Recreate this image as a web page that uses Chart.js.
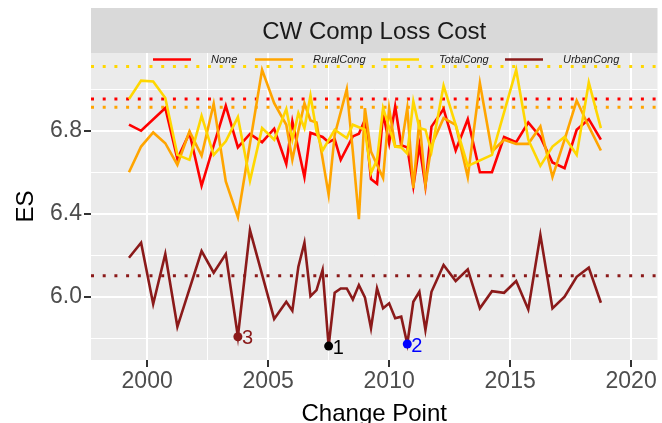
<!DOCTYPE html>
<html>
<head>
<meta charset="utf-8">
<title>CW Comp Loss Cost</title>
<script src="https://cdn.jsdelivr.net/npm/chart.js@4.4.1/dist/chart.umd.min.js"></script>
<style>
    html, body { margin: 0; padding: 0; background: #ffffff; }
    canvas { display: block; }
</style>
</head>
<body>
<canvas id="esChart" width="662" height="423"></canvas>
<script>
//--- Data: [change point, ES]
var seriesNames = ['None', 'RuralCong', 'TotalCong', 'UrbanCong'];
var seriesColors = ['#FF0000', '#FFA500', '#FFD700', '#8B1A1A'];

var noneES = [
    [1999.25, 6.83], [1999.75, 6.80], [2000.75, 6.91], [2001.25, 6.665], [2001.75, 6.79],
    [2002.25, 6.535], [2002.75, 6.73], [2003.25, 6.92], [2003.75, 6.72], [2004.25, 6.785],
    [2004.75, 6.745], [2005.25, 6.81], [2005.75, 6.64], [2006.0, 6.845], [2006.5, 6.577],
    [2006.75, 6.79], [2007.25, 6.77], [2007.5, 6.745], [2007.75, 6.76], [2008.0, 6.66],
    [2008.5, 6.773], [2008.75, 6.786], [2009.0, 6.853], [2009.25, 6.567], [2009.5, 6.545],
    [2009.75, 6.885], [2010.0, 6.74], [2010.25, 6.917], [2010.5, 6.73], [2010.75, 6.72],
    [2011.0, 6.532], [2011.25, 6.73], [2011.5, 6.535], [2011.75, 6.82], [2012.25, 6.905],
    [2012.75, 6.705], [2013.25, 6.856], [2013.75, 6.60], [2014.25, 6.60], [2014.75, 6.77],
    [2015.25, 6.745], [2015.75, 6.84], [2016.25, 6.77], [2016.75, 6.647], [2017.25, 6.62],
    [2017.75, 6.805], [2018.25, 6.856], [2018.75, 6.757]
];
var ruralES = [
    [1999.25, 6.60], [1999.75, 6.724], [2000.25, 6.792], [2000.75, 6.74], [2001.25, 6.636],
    [2001.75, 6.797], [2002.25, 6.68], [2002.75, 6.93], [2003.25, 6.556], [2003.75, 6.384],
    [2004.75, 7.094], [2005.25, 6.933], [2005.75, 6.829], [2006.0, 6.66], [2006.25, 6.80],
    [2006.5, 6.933], [2006.75, 6.85], [2007.0, 6.84], [2007.5, 6.492], [2007.75, 6.78],
    [2008.25, 7.001], [2008.5, 6.70], [2008.75, 6.374], [2009.0, 6.909], [2009.25, 6.70],
    [2009.75, 6.572], [2010.0, 6.909], [2010.25, 6.725], [2010.5, 6.725], [2010.75, 6.909],
    [2011.0, 6.524], [2011.25, 6.853], [2011.5, 6.54], [2011.75, 6.73], [2012.25, 6.861],
    [2012.75, 6.829], [2013.25, 6.577], [2013.75, 7.03], [2014.25, 6.70], [2014.75, 6.757],
    [2015.25, 6.737], [2015.75, 6.737], [2016.25, 6.821], [2016.75, 6.577], [2017.25, 6.757],
    [2017.75, 6.946], [2018.25, 6.821], [2018.75, 6.705]
];
var totalES = [
    [1999.25, 6.953], [1999.75, 7.042], [2000.25, 7.038], [2000.75, 6.958], [2001.25, 6.684],
    [2001.75, 6.66], [2002.25, 6.872], [2002.75, 6.684], [2003.25, 6.749], [2003.75, 6.866],
    [2004.25, 6.56], [2004.75, 6.813], [2005.25, 6.757], [2005.75, 6.905], [2006.0, 6.757],
    [2006.25, 6.885], [2006.5, 6.813], [2006.75, 6.969], [2007.0, 6.797], [2007.25, 6.705],
    [2007.75, 6.805], [2008.25, 6.765], [2008.5, 6.829], [2009.0, 6.805], [2009.25, 6.596],
    [2009.5, 6.66], [2009.75, 6.909], [2010.25, 6.724], [2010.5, 6.72], [2010.75, 6.69],
    [2011.0, 6.941], [2011.25, 6.813], [2011.5, 6.805], [2011.75, 6.70], [2012.25, 7.017],
    [2012.75, 6.829], [2013.25, 6.631], [2014.25, 6.684], [2015.25, 7.094], [2015.75, 6.757],
    [2016.25, 6.631], [2016.75, 6.724], [2017.25, 6.77], [2017.75, 6.684], [2018.25, 7.033],
    [2018.75, 6.813]
];
var urbanES = [
    [1999.25, 6.188], [1999.75, 6.26], [2000.25, 5.965], [2000.75, 6.206], [2001.25, 5.855],
    [2002.25, 6.22], [2002.75, 6.116], [2003.25, 6.206], [2003.75, 5.807], [2004.25, 6.321],
    [2005.25, 5.893], [2005.75, 5.976], [2006.0, 5.933], [2006.25, 6.145], [2006.5, 6.26],
    [2006.75, 6.003], [2007.0, 6.032], [2007.25, 6.129], [2007.5, 5.762], [2007.75, 6.019],
    [2008.0, 6.04], [2008.25, 6.04], [2008.5, 5.987], [2008.75, 6.056], [2009.0, 5.997],
    [2009.25, 5.848], [2009.5, 6.04], [2009.75, 5.944], [2010.0, 5.968], [2010.25, 5.896],
    [2010.5, 5.904], [2010.75, 5.772], [2011.0, 5.976], [2011.25, 6.024], [2011.5, 5.84],
    [2011.75, 6.024], [2012.25, 6.153], [2012.75, 6.076], [2013.25, 6.132], [2013.75, 5.944],
    [2014.25, 6.027], [2014.75, 6.019], [2015.25, 6.076], [2015.75, 5.939], [2016.25, 6.297],
    [2016.75, 5.944], [2017.25, 6.0], [2017.75, 6.096], [2018.25, 6.14], [2018.75, 5.971]
];

// dotted reference level of each series (same order as seriesNames)
var levels = [6.953, 6.914, 7.11, 6.101];

// labelled change points
var cpYears = [2007.5, 2010.75, 2003.75];
var cpValues = [5.762, 5.772, 5.807];
var cpLabels = ['1', '2', '3'];
var cpColors = ['#000000', '#0000FF', '#8B1A1A'];

// axes
var xTicks = [2000, 2005, 2010, 2015, 2020];
var yTicks = [6.0, 6.4, 6.8];
var xRange = [1997.68, 2021.09];
var yRange = [5.695, 7.175];

var stripTitle = 'CW Comp Loss Cost';
var xTitle = 'Change Point';
var yTitle = 'ES';

var FONT = "'Liberation Sans', Arial, sans-serif";

//--- helpers
function toPoints(pairs) {
    return pairs.map(function (p) { return { x: p[0], y: p[1] }; });
}

function withMinor(major, lo, hi) {
    var half = (major[1] - major[0]) / 2;
    var out = [];
    for (var v = major[0] - half; v <= major[major.length - 1] + half + 1e-9; v += half) {
        var r = Math.round(v * 1000) / 1000;
        if (r >= lo && r <= hi) out.push(r);
    }
    return out;
}

function isMajor(major, v) {
    return major.some(function (m) { return Math.abs(m - v) < 1e-6; });
}

//--- datasets
var allSeries = [noneES, ruralES, totalES, urbanES];
var datasets = [];

allSeries.forEach(function (s, i) {
    datasets.push({
        label: seriesNames[i],
        data: toPoints(s),
        borderColor: seriesColors[i],
        borderWidth: 2.6,
        pointRadius: 0,
        tension: 0,
        order: 4 - i
    });
});

levels.forEach(function (lv, i) {
    datasets.push({
        label: seriesNames[i] + ' level',
        data: [{ x: xRange[0], y: lv }, { x: xRange[1], y: lv }],
        borderColor: seriesColors[i],
        borderWidth: 3,
        borderDash: [3, 8.7],
        borderCapStyle: 'butt',
        pointRadius: 0,
        order: 10
    });
});

datasets.push({
    type: 'scatter',
    label: 'change points',
    data: cpYears.map(function (x, i) { return { x: x, y: cpValues[i] }; }),
    pointRadius: 4.5,
    pointBackgroundColor: cpColors,
    pointBorderWidth: 0,
    showLine: false,
    order: 0
});

//--- ggplot look: panel, strip, legend, titles, labels
var ggPlugin = {
    id: 'ggLook',
    beforeDraw: function (chart) {
        var ctx = chart.ctx, a = chart.chartArea;
        ctx.save();
        ctx.fillStyle = '#FFFFFF';
        ctx.fillRect(0, 0, chart.width, chart.height);
        ctx.fillStyle = '#EBEBEB';
        ctx.fillRect(a.left, a.top, a.right - a.left, a.bottom - a.top);
        // strip
        ctx.fillStyle = '#D9D9D9';
        ctx.fillRect(a.left, 8, a.right - a.left, a.top - 8);
        ctx.fillStyle = '#1A1A1A';
        ctx.font = '24px ' + FONT;
        ctx.textAlign = 'center';
        ctx.textBaseline = 'alphabetic';
        ctx.fillText(stripTitle, (a.left + a.right) / 2, 39);
        ctx.restore();
    },
    afterDatasetsDraw: function (chart) {
        var ctx = chart.ctx;
        var xs = chart.scales.x, ys = chart.scales.y;
        ctx.save();
        // change point labels
        ctx.font = '20px ' + FONT;
        ctx.textAlign = 'left';
        ctx.textBaseline = 'middle';
        cpYears.forEach(function (x, i) {
            ctx.fillStyle = cpColors[i];
            ctx.fillText(cpLabels[i], xs.getPixelForValue(x) + 4, ys.getPixelForValue(cpValues[i]) + 2);
        });
        // legend inside the panel
        var keyX = [153, 255, 381, 505];
        var legY = 59.5;
        ctx.font = 'italic 11px ' + FONT;
        seriesNames.forEach(function (name, i) {
            ctx.strokeStyle = seriesColors[i];
            ctx.lineWidth = 2.7;
            ctx.beginPath();
            ctx.moveTo(keyX[i], legY);
            ctx.lineTo(keyX[i] + 38, legY);
            ctx.stroke();
            ctx.fillStyle = '#1A1A1A';
            ctx.fillText(name, keyX[i] + 58, legY);
        });
        ctx.restore();
    },
    afterDraw: function (chart) {
        var ctx = chart.ctx, a = chart.chartArea;
        ctx.save();
        ctx.fillStyle = '#000000';
        ctx.font = '24px ' + FONT;
        ctx.textAlign = 'center';
        ctx.textBaseline = 'alphabetic';
        ctx.fillText(xTitle, (a.left + a.right) / 2, 421);
        ctx.translate(33, (a.top + a.bottom) / 2);
        ctx.rotate(-Math.PI / 2);
        ctx.fillText(yTitle, 0, 0);
        ctx.restore();
    }
};

function gridWidth(major) {
    return function (c) { return c.tick && isMajor(major, c.tick.value) ? 2 : 1; };
}
function tickColour(major) {
    return function (c) { return c.tick && isMajor(major, c.tick.value) ? '#333333' : 'rgba(0,0,0,0)'; };
}

new Chart(document.getElementById('esChart'), {
    type: 'line',
    data: { datasets: datasets },
    options: {
        responsive: false,
        animation: false,
        devicePixelRatio: 1,
        layout: { padding: { top: 53, right: 4, bottom: 0, left: 0 } },
        plugins: {
            legend: { display: false },
            tooltip: { enabled: false },
            title: { display: false }
        },
        scales: {
            x: {
                type: 'linear',
                min: xRange[0],
                max: xRange[1],
                afterBuildTicks: function (scale) {
                    scale.ticks = withMinor(xTicks, xRange[0], xRange[1]).map(function (v) { return { value: v }; });
                },
                afterFit: function (scale) { scale.height = 63; },
                grid: {
                    color: '#FFFFFF',
                    lineWidth: gridWidth(xTicks),
                    tickColor: tickColour(xTicks),
                    tickLength: 7,
                    tickWidth: 2
                },
                border: { display: false },
                ticks: {
                    autoSkip: false,
                    maxRotation: 0,
                    padding: 1,
                    color: '#4D4D4D',
                    font: { family: FONT, size: 23 },
                    callback: function (v) { return isMajor(xTicks, v) ? String(v) : ''; }
                }
            },
            y: {
                type: 'linear',
                min: yRange[0],
                max: yRange[1],
                afterBuildTicks: function (scale) {
                    scale.ticks = withMinor(yTicks, yRange[0], yRange[1]).map(function (v) { return { value: v }; });
                },
                afterFit: function (scale) { scale.width = 91; },
                grid: {
                    color: '#FFFFFF',
                    lineWidth: gridWidth(yTicks),
                    tickColor: tickColour(yTicks),
                    tickLength: 7,
                    tickWidth: 2
                },
                border: { display: false },
                ticks: {
                    autoSkip: false,
                    padding: 2,
                    color: '#4D4D4D',
                    font: { family: FONT, size: 23 },
                    callback: function (v) { return isMajor(yTicks, v) ? v.toFixed(1) : ''; }
                }
            }
        }
    },
    plugins: [ggPlugin]
});
</script>
</body>
</html>
